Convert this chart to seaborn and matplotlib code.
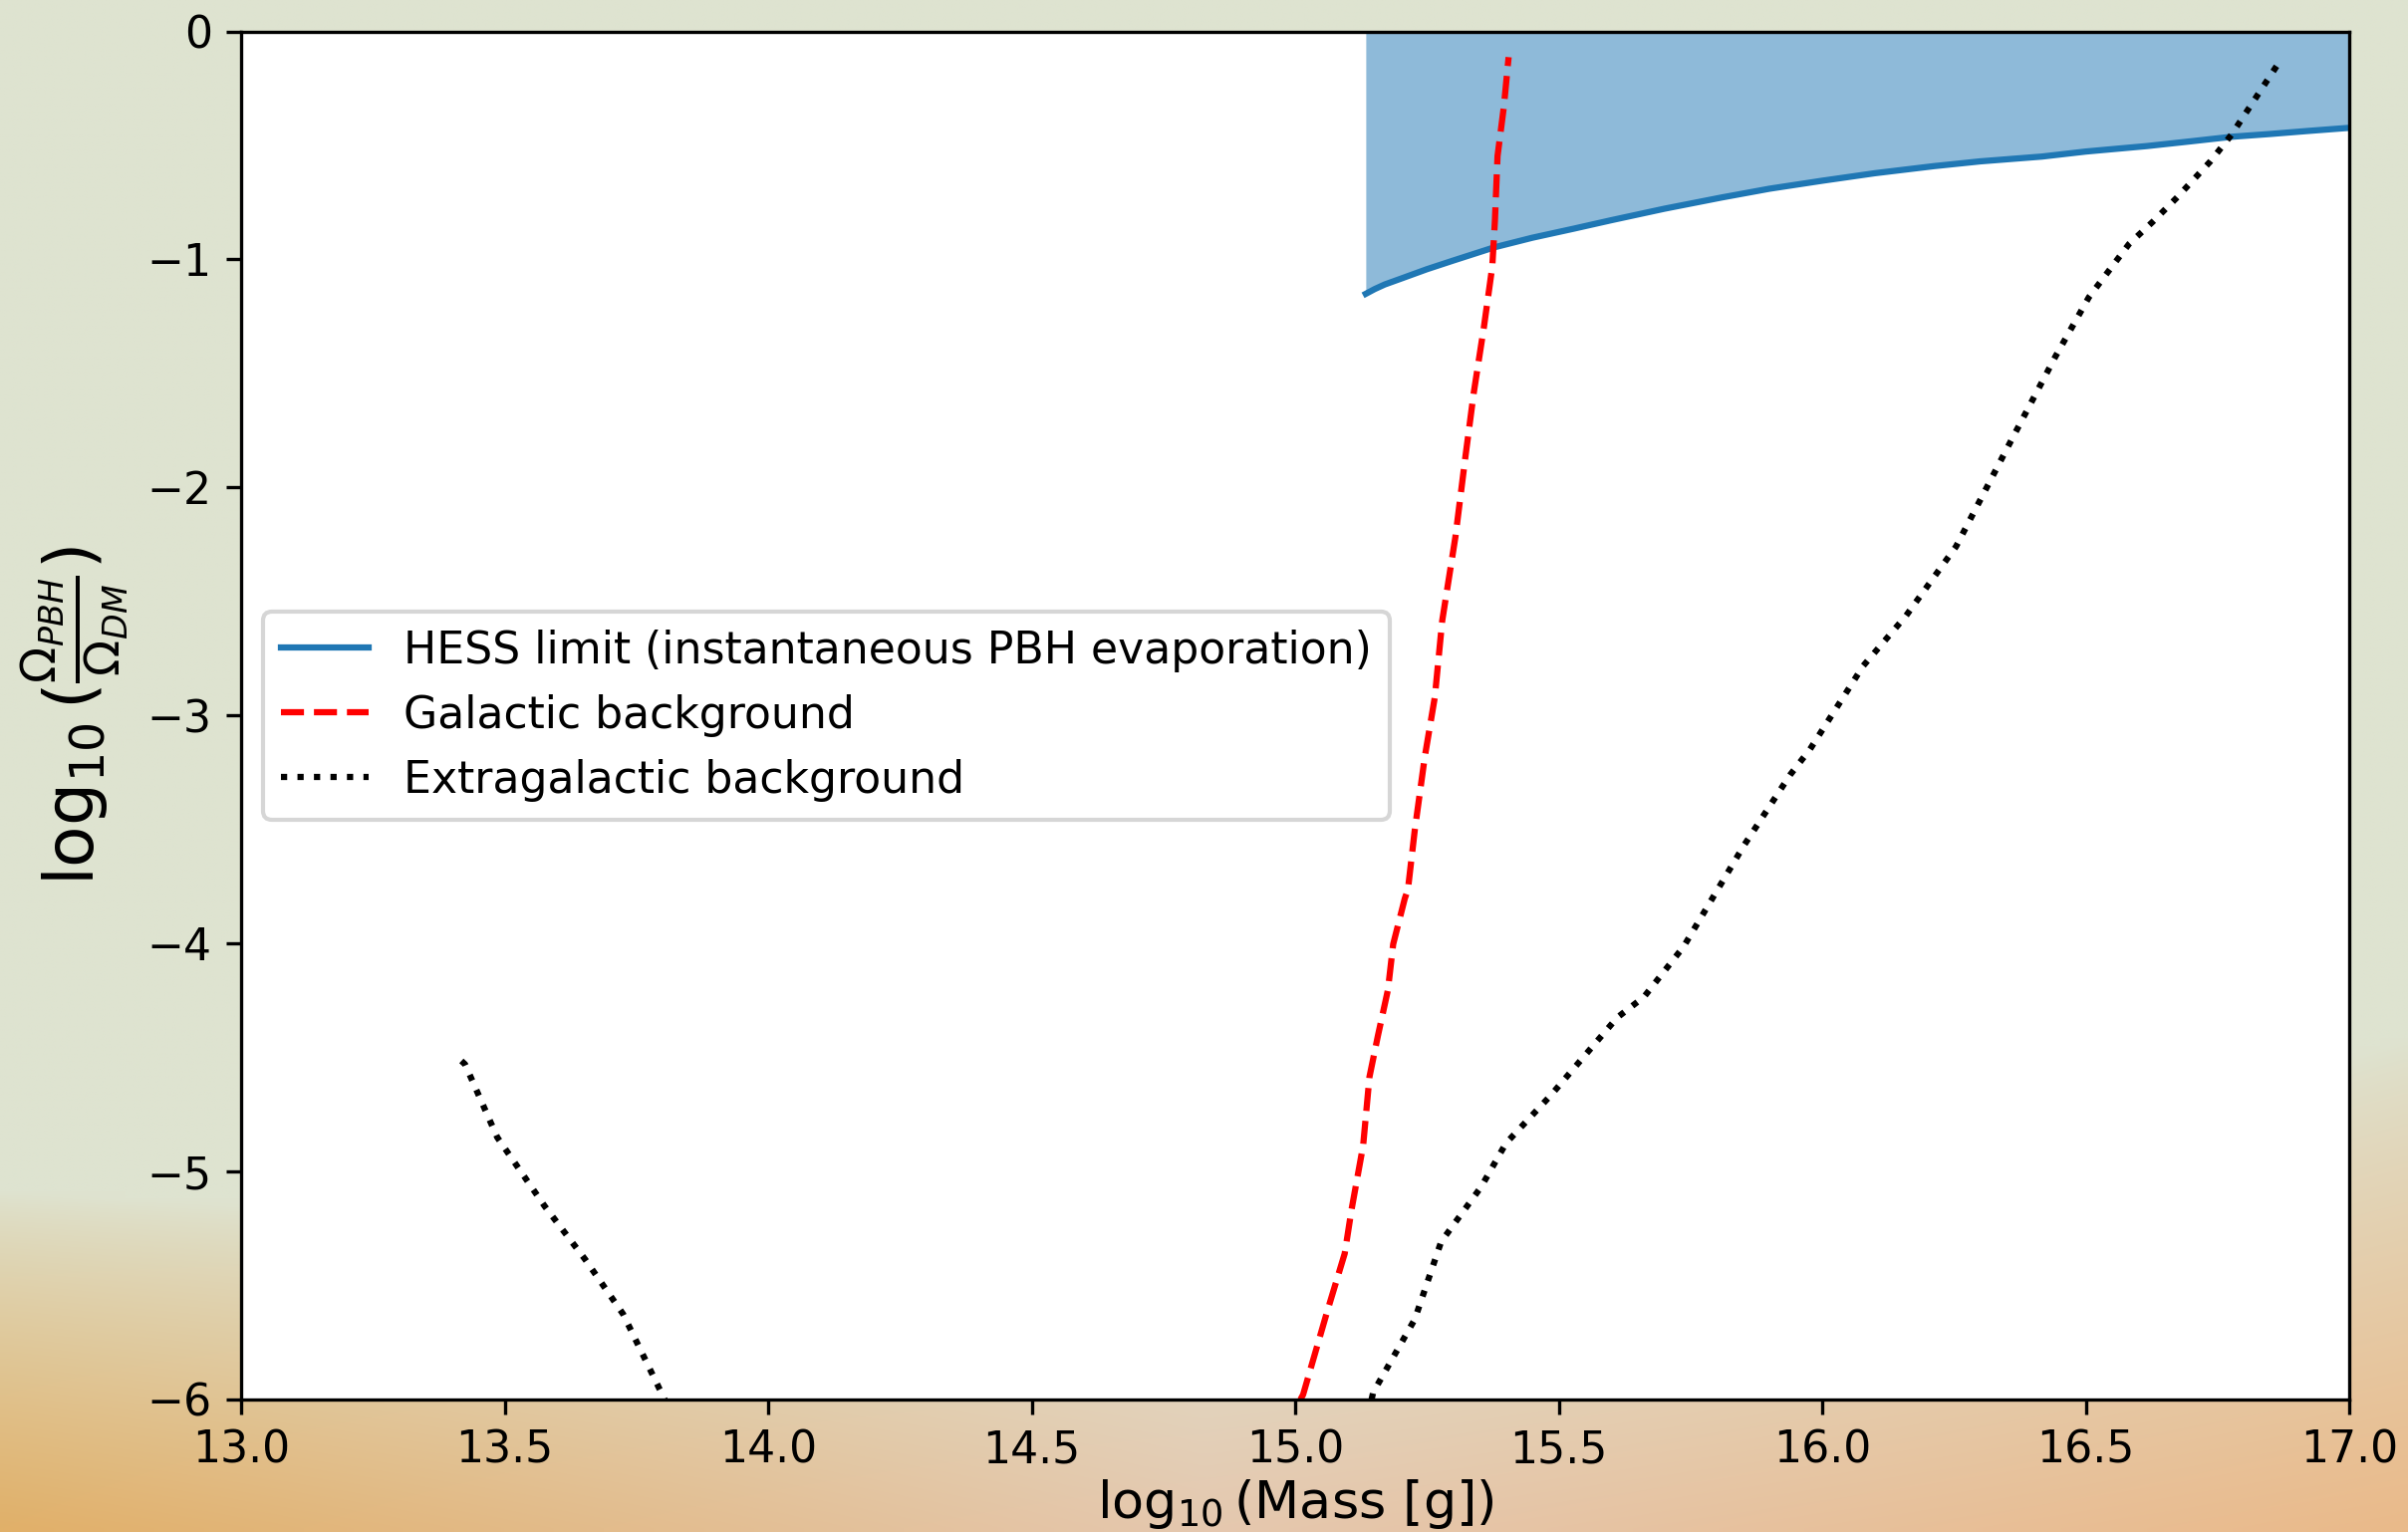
import numpy as np
import pandas as pd
import matplotlib
matplotlib.use("Agg")
import matplotlib.pyplot as plt
import seaborn as sns

# ---------------- data ----------------
hess_x = [15.134, 15.151, 15.17, 15.2, 15.25, 15.3, 15.378, 15.45, 15.529, 15.6,
          15.7, 15.808, 15.9, 16.0, 16.1, 16.212, 16.3, 16.417, 16.5, 16.616,
          16.7, 16.778, 16.85, 16.92, 17.0]
hess_y = [-1.151, -1.130, -1.110, -1.085, -1.043, -1.005, -0.947, -0.905, -0.865,
          -0.828, -0.778, -0.729, -0.690, -0.655, -0.622, -0.591, -0.570, -0.549,
          -0.527, -0.503, -0.482, -0.462, -0.450, -0.437, -0.423]

gal_x = [15.010, 15.015, 15.060, 15.094, 15.107, 15.129, 15.141, 15.157, 15.176,
         15.186, 15.208, 15.214, 15.227, 15.246, 15.265, 15.279, 15.304, 15.323,
         15.339, 15.358, 15.374, 15.379, 15.384, 15.396, 15.405]
gal_y = [-6.0, -5.979, -5.62, -5.36, -5.167, -4.886, -4.585, -4.405, -4.204,
         -4.003, -3.803, -3.763, -3.502, -3.181, -2.920, -2.585, -2.218, -1.866,
         -1.583, -1.299, -1.032, -0.831, -0.547, -0.330, -0.113]

egal_lo_x = [13.418, 13.425, 13.486, 13.576, 13.653, 13.725, 13.794, 13.804]
egal_lo_y = [-4.515, -4.530, -4.850, -5.152, -5.386, -5.626, -5.954, -6.0]

egal_hi_x = [15.145, 15.148, 15.227, 15.277, 15.353, 15.400, 15.485, 15.611, 15.662,
             15.737, 15.851, 15.939, 15.977, 16.078, 16.159, 16.254, 16.355, 16.443,
             16.506, 16.582, 16.629, 16.673, 16.737, 16.777, 16.864]
egal_hi_y = [-6.0, -5.969, -5.648, -5.308, -5.067, -4.876, -4.666, -4.325, -4.234,
             -4.014, -3.572, -3.261, -3.148, -2.782, -2.563, -2.259, -1.810, -1.424,
             -1.166, -0.933, -0.831, -0.729, -0.569, -0.452, -0.146]

labels = ["HESS limit (instantaneous PBH evaporation)",
          "Galactic background",
          "Extragalactic background"]

# ---------------- figure ----------------
W, H = 2417, 1538
fig = plt.figure(figsize=(W / 300, H / 300), dpi=300)

# decorative background gradient (sage on top, warm orange/peach at bottom)
ny, nx = 200, 300
yy, xx = np.mgrid[0:1:ny * 1j, 0:1:nx * 1j]   # yy: 0 at top, 1 at bottom
top = np.array([222, 227, 208]) / 255.0
bl = np.array([225, 176, 105]) / 255.0
bc = np.array([229, 200, 175]) / 255.0
br = np.array([234, 186, 138]) / 255.0
wl = np.clip(1 - 2 * xx, 0, 1)
wr = np.clip(2 * xx - 1, 0, 1)
wc = 1 - wl - wr
bottom = (wl[..., None] * bl + wc[..., None] * bc + wr[..., None] * br)
start = 0.78 + 0.04 * wc - 0.10 * wr ** 2
t = np.clip((yy - start) / (1 - start), 0, 1) ** 0.8
img = (1 - t[..., None]) * top + t[..., None] * bottom
bg = fig.add_axes([0, 0, 1, 1])
bg.imshow(img, aspect="auto", extent=[0, 1, 0, 1], interpolation="bilinear")
bg.axis("off")
bg.set_zorder(-10)

left, right = 242 / W, 2358 / W
bottom_f, top_f = 1 - 1405 / H, 1 - 31.5 / H
ax = fig.add_axes([left, bottom_f, right - left, top_f - bottom_f])
ax.set_facecolor("white")

ax.fill_between(hess_x, hess_y, 0, color="#1f77b4", alpha=0.5, lw=0)
sns.lineplot(x=hess_x, y=hess_y, ax=ax, color="#1f77b4", lw=1.5,
             estimator=None, sort=False, label=labels[0])
sns.lineplot(x=gal_x, y=gal_y, ax=ax, color="red", lw=1.5, linestyle="--",
             estimator=None, sort=False, label=labels[1])
sns.lineplot(x=egal_hi_x, y=egal_hi_y, ax=ax, color="black", lw=1.5, linestyle=":",
             estimator=None, sort=False, label=labels[2])
sns.lineplot(x=egal_lo_x, y=egal_lo_y, ax=ax, color="black", lw=1.5, linestyle=":",
             estimator=None, sort=False)

ax.set_xlim(13, 17)
ax.set_ylim(-6, 0)
ax.set_xticks(np.arange(13, 17.01, 0.5))
ax.set_yticks(np.arange(-6, 0.01, 1))
ax.tick_params(labelsize=10.6)
ax.set_xlabel(r"$\log_{10}$(Mass [g])", fontsize=12.6, labelpad=1.5)
ax.set_ylabel(r"$\log_{10}(\frac{\Omega_{PBH}}{\Omega_{DM}})$", fontsize=16.3,
              labelpad=4)

ax.legend(loc="center left", fontsize=10.6)

fig.savefig("out.png", dpi=300)
